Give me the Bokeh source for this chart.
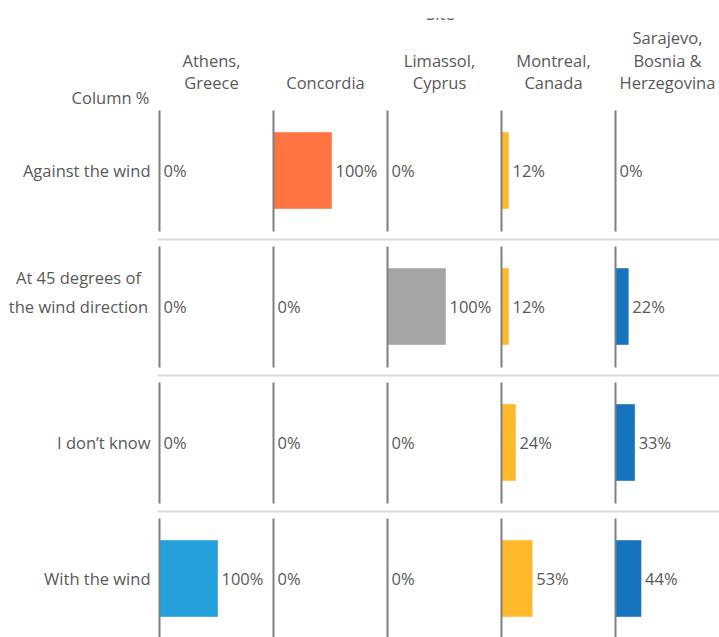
from bokeh.plotting import figure
from bokeh.models import Range1d
from bokeh.embed import file_html
from bokeh.resources import INLINE
from bokeh.core.properties import value

# ---------------- data ----------------
answers = ["Against the wind", "At 45 degrees of the wind direction", "I don\u2019t know", "With the wind"]
answer_lines = [["Against the wind"], ["At 45 degrees of", "the wind direction"], ["I don\u2019t know"], ["With the wind"]]
sites = ["Athens, Greece", "Concordia", "Limassol, Cyprus", "Montreal, Canada", "Sarajevo, Bosnia & Herzegovina"]
site_lines = [["Athens,", "Greece"], ["Concordia"], ["Limassol,", "Cyprus"], ["Montreal,", "Canada"],
              ["Sarajevo,", "Bosnia &", "Herzegovina"]]
athens = [0, 0, 0, 100]
concordia = [100, 0, 0, 0]
limassol = [0, 100, 0, 0]
montreal = [12, 12, 24, 53]
sarajevo = [0, 22, 33, 44]
series = [athens, concordia, limassol, montreal, sarajevo]
colors = ["#26A0DA", "#FF7440", "#A5A5A5", "#FFB92B", "#1674BF"]
title_text = "Site"
corner_text = "Column %"

# ---------------- layout (pixels) ----------------
PX_PCT = 0.58          # px per percentage point
COL_PX = 114           # px between panel axes
ROW_PX = 136           # px between rows
AX0 = 159              # x of first panel axis
ROW0 = 170             # y of first row centre
W, H = 719, 637
TOP_CUT = 17.5         # top strip of the page that is scrolled away in the original

def dx(px):
    return px / PX_PCT

def dy(px):
    return px / ROW_PX

x_start = dx(0 - AX0)
x_end = dx(W - AX0)
y_top = dy(0 - ROW0)
y_bot = dy(H - ROW0)

p = figure(width=W, height=H, output_backend="svg", toolbar_location=None,
           x_range=Range1d(x_start, x_end), y_range=Range1d(start=y_bot, end=y_top),
           min_border_left=0, min_border_right=0, min_border_top=0, min_border_bottom=0)
p.xaxis.visible = False
p.yaxis.visible = False
p.xgrid.visible = False
p.ygrid.visible = False
p.outline_line_color = None
p.background_fill_color = "white"
p.border_fill_color = "white"

FONT = value("Open Sans")
TXT = "#595959"
FS = "16.5px"

rows = list(range(len(answers)))
col_base = [i * dx(COL_PX) for i in range(len(sites))]

# separators between rows
for r in rows[:-1]:
    p.segment(x0=dx(-2), y0=r + dy(69), x1=x_end, y1=r + dy(69), line_color="#D9D9D9", line_width=2)

for i, (vals, col) in enumerate(zip(series, colors)):
    base = col_base[i]
    lefts = [base] * len(vals)
    rights = [base + v for v in vals]
    p.hbar(y=rows, left=lefts, right=rights, height=dy(76), fill_color=col,
           line_color=col, line_alpha=0.6)
    # panel axis lines
    p.segment(x0=lefts, y0=[r - dy(60) for r in rows], x1=lefts, y1=[r + dy(61) for r in rows],
              line_color="#7F7F7F", line_width=2)
    p.text(x=rights, y=rows, text=[f"{v}%" for v in vals], x_offset=4,
           text_align="left", text_baseline="middle", text_font=FONT,
           text_font_size=FS, text_color=TXT)
    # header
    lines = site_lines[i]
    n = len(lines)
    hy = [dy(82 - ROW0 - 22.5 * (n - 1 - k)) for k in range(n)]
    p.text(x=[base + dx(52)] * n, y=hy, text=lines, text_align="center",
           text_baseline="middle", text_font=FONT, text_font_size=FS, text_color=TXT)

# row labels
for r, lines in enumerate(answer_lines):
    if len(lines) == 1:
        p.text(x=[dx(-9)], y=[r], text=lines, text_align="right", text_baseline="middle",
               text_font=FONT, text_font_size=FS, text_color=TXT)
    else:
        n = len(lines)
        ys = [r - dy(29) * (n - 1 - k) for k in range(n)]
        p.text(x=[dx(-81)] * n, y=ys, text=lines, text_align="center", text_baseline="middle",
               text_font=FONT, text_font_size=FS, text_color=TXT)

p.text(x=[dx(-10)], y=[dy(97 - ROW0)], text=[corner_text], text_align="right",
       text_baseline="middle", text_font=FONT, text_font_size=FS, text_color=TXT)
p.text(x=[dx(440 - AX0)], y=[dy(12.5 - ROW0)], text=[title_text], text_align="center",
       text_baseline="middle", text_font=FONT, text_font_size=FS, text_color=TXT)
# the original page is scrolled so that only the foot of the "Site" title shows
p.quad(left=[x_start], right=[x_end], top=[y_top], bottom=[dy(TOP_CUT - ROW0)],
       fill_color="white", line_color=None)

open("out.html", "w").write(file_html(p, INLINE))
